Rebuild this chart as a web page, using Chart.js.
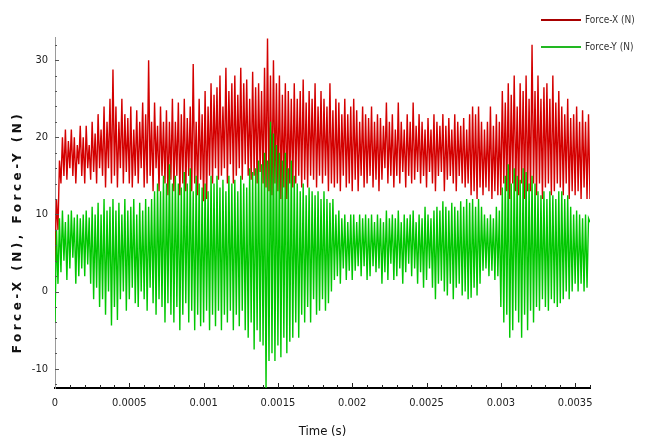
<!DOCTYPE html>
<html>
<head>
<meta charset="utf-8">
<script src="https://cdn.jsdelivr.net/npm/chart.js@4"></script>
<style>
  html, body { margin: 0; padding: 0; background: #fff; }
  #wrap { width: 646px; height: 439px; }
</style>
</head>
<body>
<div id="wrap"><canvas id="chart" width="646" height="439"></canvas></div>
<script>
// sampling step of the trace (s)
const dt = 0.00001;

const forceX = [
  4, 12, 8, 17, 14, 20, 15, 21, 14.5, 19.5, 16, 21, 15, 20, 14, 19, 16.5, 21.5, 15, 20,
  14, 21.5, 16, 19, 14.5, 22, 15.5, 20.5, 14, 23, 16, 21, 15, 24, 13.5, 22, 16, 25, 14, 28.8,
  15, 24, 13.5, 22, 16, 25, 14, 23, 15.5, 22.5, 14, 24, 13.5, 21, 15, 23.5, 14, 22, 16, 24.5,
  13.5, 23, 14, 30, 15, 22, 13, 24.5, 16, 21.5, 13, 24, 15, 22, 14, 23.5, 12.5, 22, 14.5, 25,
  13, 22, 15, 24.5, 12.5, 23, 14, 25, 13, 22.5, 15, 24, 13, 29.5, 14, 22, 12.5, 25, 14.5, 23,
  11.7, 26, 12, 24, 15, 27, 14, 25.5, 16, 26.5, 14.5, 28, 15, 24, 16, 29, 14, 26, 16.5, 27,
  14, 28, 15, 25.5, 16, 29, 14.5, 27, 16.5, 27.5, 15, 25, 14.5, 28.5, 15, 26.5, 14, 27, 15.5, 26,
  14, 29, 13.5, 32.8, 13, 28, 12.5, 30, 14, 27, 13, 28, 12, 25.5, 13.5, 27, 12, 26, 14, 25,
  13.5, 27, 14, 25, 15, 26, 13.5, 27.5, 14.5, 24.5, 13.5, 26, 15, 25, 14.5, 27, 13.5, 24, 15, 26,
  14, 25, 15, 24, 13, 27, 14, 23.5, 13.5, 25, 14, 24.5, 13, 23, 15, 25, 13.5, 23, 14, 24,
  13, 25, 14.5, 23.5, 13, 22, 15, 24, 13.5, 23, 14, 22.5, 15, 24, 13.5, 22, 14.5, 23, 13, 22.5,
  14.5, 21.5, 16, 24.5, 14, 22, 15, 23, 13.5, 21, 15, 24.5, 14, 22, 15.5, 21, 13.5, 23, 15, 22,
  14, 24.5, 14.5, 21.5, 15.5, 23, 14, 22, 15, 21, 13.5, 22.5, 15.5, 21, 14, 23, 13, 22, 15, 21.5,
  15.5, 23, 13, 21.5, 14.5, 22.5, 15, 21, 14, 23, 13, 22, 15, 21.5, 14, 22.5, 13.5, 21, 14, 23,
  12.5, 24, 13, 23, 12, 24, 13.5, 22, 12.5, 21, 13.5, 22, 13, 24, 12, 21.5, 13, 23, 12.5, 22,
  12.5, 26, 14, 24.5, 13, 27, 12, 25.5, 14, 28, 13, 24, 12.5, 27, 14, 26, 12, 28, 13, 25,
  13, 32, 14, 26, 12.5, 28, 14, 25, 12, 26.5, 13.5, 27, 14, 25, 12.5, 28, 13, 24.5, 14, 26,
  13.5, 24, 12.5, 23, 14, 25, 12, 22.5, 13, 23, 12.5, 24, 13, 22, 12, 23.5, 13.5, 22, 12, 23,
  12
];

const forceY = [
  -4, 8, 1, 9.5, 2.5, 10.5, 4, 9, 1.5, 10, 3, 10.5, 4.4, 9.6, 1, 10, 2, 9.5, 3, 10,
  2, 10.5, 3.5, 9.6, 1, 11, -1, 10, 0.5, 11.5, -2, 10, -1, 12, -3, 10.5, 0, 11, -4.4, 12,
  -2, 10.5, -3.7, 11.5, -1, 10, 0, 12, -2.5, 10.5, -1, 11, 0.5, 12, -1.5, 10, -2, 11.5, 0, 10.5,
  -1, 12, -2.5, 11, 0.5, 12, -1.5, 13, -3, 14, -1, 13, -2, 15, -4, 14, -1.5, 16.5, -3, 14,
  -4, 15, -2, 14, -5, 13.5, -3, 15.5, -1.5, 14, -4, 16, -2.5, 13, -5, 15, -3, 14, -4.5, 13.5,
  -4, 14, -2.5, 13, -5, 15, -3, 14, -4.5, 15, -2.5, 13.5, -5, 14.5, -3, 13, -4, 15, -2.5, 14,
  -5, 14.5, -3, 13, -4.5, 15, -2.5, 14, -5, 13.5, -6, 16, -4, 15.5, -7.5, 16, -5, 17, -6.5, 16.5,
  -7, 18, -12.5, 17, -9, 22, -8, 20.5, -9, 19, -7, 18, -8.5, 17, -6, 18, -8, 16, -6.5, 17,
  -6, 15, -4, 14, -6, 13, -3, 14, -4, 12.5, -2, 13.5, -4, 13, -1, 12.5, -3, 13, -2.5, 12,
  -1, 13, -2.5, 12, -1.5, 11.5, 0, 12, 1.5, 10, 2, 10.5, 1, 9.5, 3, 10, 1.5, 9, 2.7, 10,
  1.5, 10, 2.7, 9, 3.3, 10, 2, 9.5, 3.3, 10, 1.5, 9.5, 2, 10, 3.3, 9, 2.5, 10, 3, 9.5,
  1, 9, 2.5, 10.5, 1.5, 9.5, 3.6, 10, 1.5, 9.5, 2, 10.5, 3, 9, 1, 10, 2.5, 9.5, 3.6, 10,
  2, 10.5, 3, 9, 1, 10, 2.5, 9.5, 0.5, 11, 1.5, 10, 3, 9.5, 0.5, 10.5, -1, 11, 1, 10.5,
  1.4, 11.7, 0, 11, -0.5, 10.5, 1, 11.5, -1, 11, 0.5, 10.5, 1, 11.7, -0.5, 11, 0, 12, -1, 11.5,
  -0.8, 12, 0.5, 11, -0.5, 12, 1, 11, 2.7, 10, 3, 9.5, 2, 10, 2.7, 9.5, 1.5, 11, 2, 10.5,
  -2, 13.5, -4, 15, -3, 16.5, -6, 14, -5, 16, -2.5, 15, -4, 14.5, -6, 16, -3, 15.5, -5, 14,
  -2.5, 15, -4, 14, -2, 13, -2.5, 12.5, -1, 13, -2, 12, -2.5, 13, -1, 12.5, -1.5, 12, -2, 13,
  -1.5, 13, -1, 12, 0, 12.5, -1, 11, 0, 10, 1, 10.5, 0, 10, 1, 9.5, 0, 10, 0.5, 9.5,
  9
];

const xTicks = [0, 0.0005, 0.001, 0.0015, 0.002, 0.0025, 0.003, 0.0035];
const yTicks = [-10, 0, 10, 20, 30];

const seriesNames = ["Force-X (N)", "Force-Y (N)"];
const lineColors = ["#d40000", "#00c800"];
const legendColors = ["#a80000", "#22b822"];

const narrow = '"Liberation Sans Narrow", "DejaVu Sans Condensed", "Liberation Sans", sans-serif';

const toPoints = (vals) => vals.map((v, i) => ({ x: i * dt, y: v }));

// little inward ticks on both axes, plus y title and legend
const decor = {
  id: "decor",
  afterDraw(c) {
    const ctx = c.ctx;
    const xs = c.scales.x, ys = c.scales.y;
    const area = c.chartArea;
    ctx.save();
    ctx.strokeStyle = "#555";
    ctx.lineWidth = 1;
    for (let v = -12; v <= 32; v += 2) {
      const y = Math.round(ys.getPixelForValue(v)) + 0.5;
      const len = v % 10 === 0 ? 4 : 2;
      ctx.beginPath();
      ctx.moveTo(area.left, y);
      ctx.lineTo(area.left + len, y);
      ctx.stroke();
    }
    ctx.strokeStyle = "#222";
    for (let k = 1; k <= 36; k++) {
      const x = Math.round(xs.getPixelForValue(k * 0.0001)) + 0.5;
      const len = k % 5 === 0 ? 5 : 3;
      ctx.beginPath();
      ctx.moveTo(x, area.bottom);
      ctx.lineTo(x, area.bottom - len);
      ctx.stroke();
    }

    // y title
    ctx.translate(18, 232);
    ctx.rotate(-Math.PI / 2);
    ctx.font = 'bold 12px "DejaVu Sans", sans-serif';
    ctx.letterSpacing = "3.5px";
    ctx.fillStyle = "#111";
    ctx.textAlign = "center";
    ctx.textBaseline = "middle";
    ctx.fillText("Force-X (N), Force-Y (N)", 0, 0);
    ctx.restore();

    // legend
    ctx.save();
    ctx.font = "10px " + narrow;
    ctx.textBaseline = "middle";
    ctx.fillStyle = "#333";
    seriesNames.forEach((name, i) => {
      const y = 20 + i * 27;
      ctx.strokeStyle = legendColors[i];
      ctx.lineWidth = 2;
      ctx.beginPath();
      ctx.moveTo(541, y);
      ctx.lineTo(581, y);
      ctx.stroke();
      ctx.fillText(name, 585, y);
    });
    ctx.restore();
  }
};

new Chart(document.getElementById("chart"), {
  type: "line",
  data: {
    datasets: [
      {
        label: seriesNames[0],
        data: toPoints(forceX),
        borderColor: lineColors[0],
        borderWidth: 1.4,
        pointRadius: 0,
        order: 2
      },
      {
        label: seriesNames[1],
        data: toPoints(forceY),
        borderColor: lineColors[1],
        borderWidth: 1.4,
        pointRadius: 0,
        order: 1
      }
    ]
  },
  options: {
    responsive: false,
    animation: false,
    layout: { padding: { left: 0, right: 56, top: 37, bottom: 0 } },
    plugins: {
      legend: { display: false },
      tooltip: { enabled: false }
    },
    scales: {
      x: {
        type: "linear",
        min: 0,
        max: 0.0036,
        grid: { display: false, drawTicks: false },
        border: { display: true, color: "#000", width: 2 },
        afterBuildTicks: (s) => { s.ticks = xTicks.map(v => ({ value: v })); },
        afterFit: (s) => { s.height = 51; },
        ticks: {
          padding: 9,
          maxRotation: 0,
          color: "#222",
          font: { family: narrow, size: 11 },
          callback: (v) => String(Number(v.toPrecision(6)))
        },
        title: {
          display: true,
          text: "Time (s)",
          color: "#111",
          padding: { top: 1, bottom: 0 },
          font: { family: narrow, size: 13 }
        }
      },
      y: {
        min: -12.5,
        max: 33,
        grid: { display: false, drawTicks: false },
        border: { display: true, color: "#9a9a9a", width: 1 },
        afterBuildTicks: (s) => { s.ticks = yTicks.map(v => ({ value: v })); },
        afterFit: (s) => { s.width = 55; },
        ticks: {
          padding: 7,
          color: "#222",
          font: { family: narrow, size: 11 }
        }
      }
    }
  },
  plugins: [decor]
});
</script>
</body>
</html>
